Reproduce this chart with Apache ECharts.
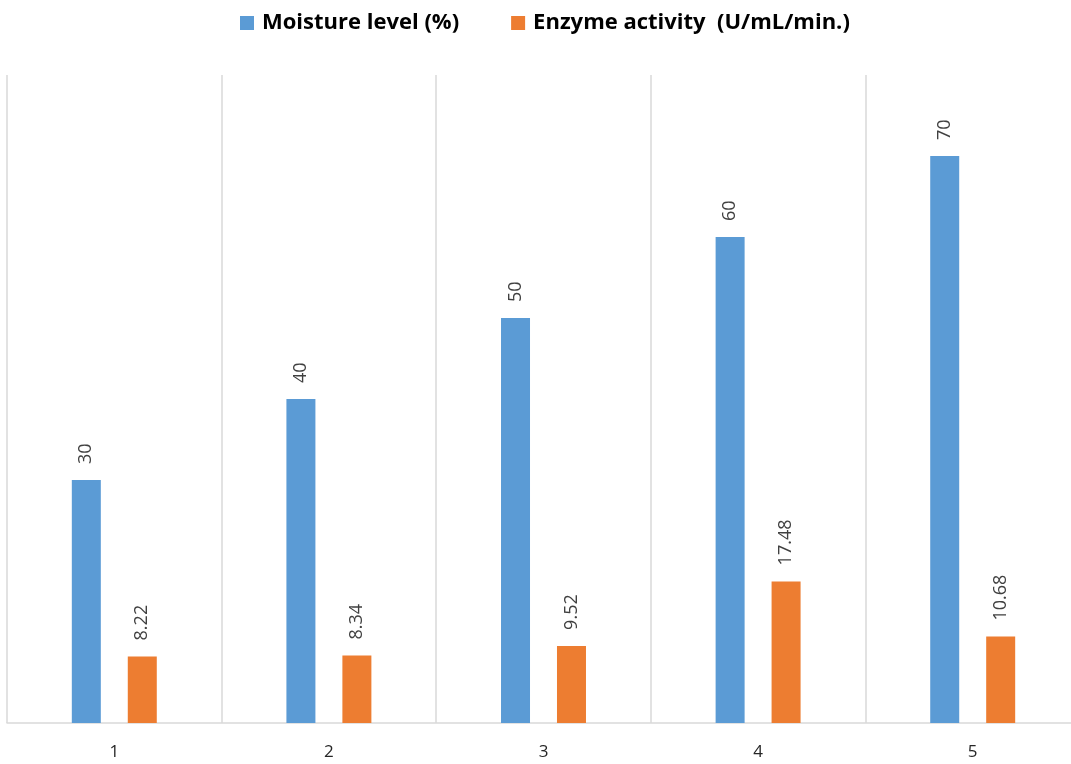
<!DOCTYPE html>
<html>
<head>
<meta charset="utf-8">
<script src="https://cdn.jsdelivr.net/npm/echarts@6/dist/echarts.min.js"></script>
<style>
  html, body { margin: 0; padding: 0; background: #fff; overflow: hidden; }
  /* the plot runs slightly past the right edge of the window */
  #chart { width: 1080px; height: 764px; }
</style>
</head>
<body>
<div id="chart"></div>
<script>
// Trial numbers on the category axis
const categories = ['1', '2', '3', '4', '5'];
// Moisture level of each trial (%)
const moistureLevel = [30, 40, 50, 60, 70];
// Enzyme activity measured for each trial (U/mL/min.)
const enzymeActivity = [8.22, 8.34, 9.52, 17.48, 10.68];
const seriesNames = ['Moisture level (%)', 'Enzyme activity  (U/mL/min.)'];

const FONT = '"Open Sans", "Liberation Sans", Arial, sans-serif';

const valueLabel = {
  show: true,
  position: 'top',
  rotate: 90,
  align: 'left',
  verticalAlign: 'middle',
  distance: 16,
  color: '#404040',
  fontSize: 18,
  fontFamily: FONT
};

const chart = echarts.init(document.getElementById('chart'));
chart.setOption({
  animation: false,
  backgroundColor: '#ffffff',
  legend: {
    top: 7,
    left: 235,
    itemGap: 52,
    itemWidth: 14,
    itemHeight: 14,
    icon: 'rect',
    textStyle: {
      fontSize: 22, fontWeight: 'bold', color: '#000', fontFamily: FONT,
      padding: [0, 0, 0, 3]
    },
    data: seriesNames
  },
  grid: { left: 7, right: 0, top: 75, bottom: 41, containLabel: false },
  xAxis: {
    type: 'category',
    data: categories,
    axisLine: { show: true, lineStyle: { color: '#d9d9d9', width: 1.5 } },
    axisTick: { show: false },
    splitLine: { show: true, lineStyle: { color: '#d9d9d9', width: 1.5 } },
    axisLabel: { color: '#262626', fontSize: 17, margin: 21, fontFamily: FONT }
  },
  yAxis: {
    type: 'value',
    min: 0,
    max: 80,
    interval: 10,
    show: false
  },
  series: [
    {
      name: seriesNames[0],
      type: 'bar',
      data: moistureLevel,
      barWidth: 29,
      barGap: '93%',
      itemStyle: { color: '#5b9bd5' },
      label: valueLabel
    },
    {
      name: seriesNames[1],
      type: 'bar',
      data: enzymeActivity,
      barWidth: 29,
      itemStyle: { color: '#ed7d31' },
      label: valueLabel
    }
  ]
});
</script>
</body>
</html>
